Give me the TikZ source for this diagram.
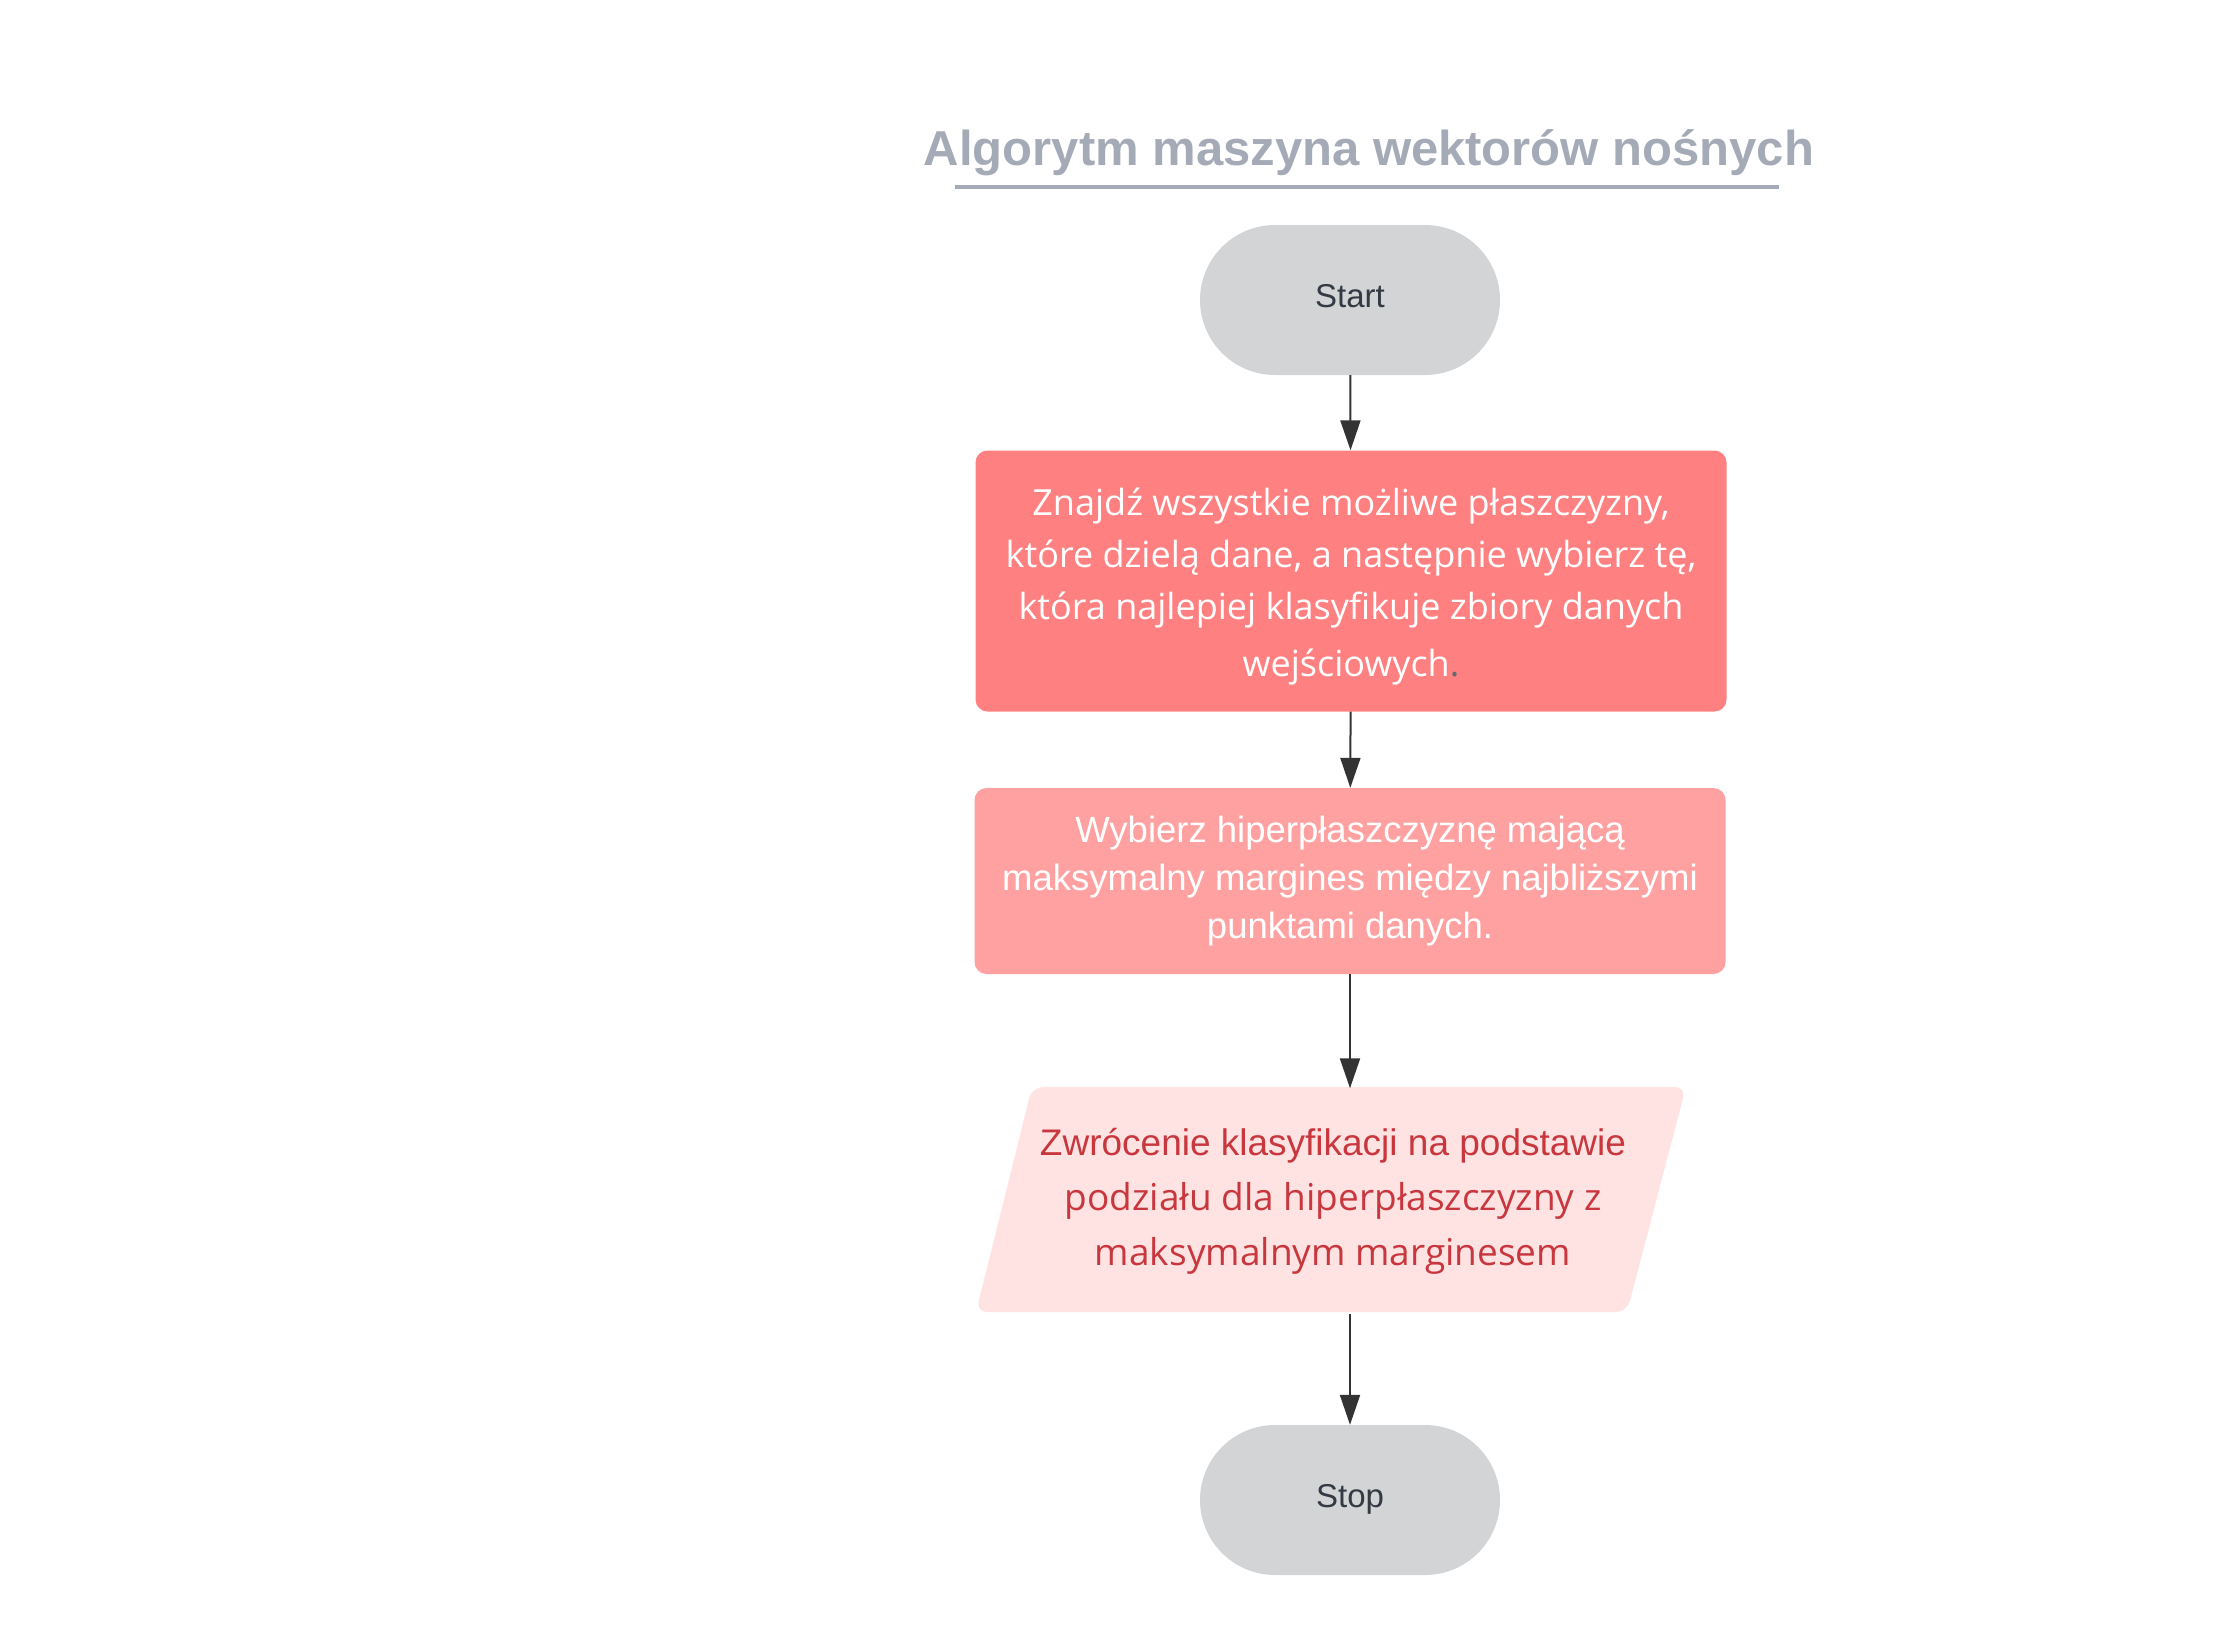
\documentclass[tikz,border=0pt]{standalone}
\usepackage{fontspec}
\setmainfont{Liberation Sans}
\newfontfamily\opensans{Open Sans}
\usetikzlibrary{arrows.meta}
\definecolor{titlegray}{HTML}{A4ABB6}
\definecolor{termgray}{HTML}{D3D4D6}
\definecolor{termtext}{HTML}{333A44}
\definecolor{redone}{HTML}{FF8080}
\definecolor{redtwo}{HTML}{FFA1A1}
\definecolor{redio}{HTML}{FFE3E3}
\definecolor{redtext}{HTML}{C8373D}
\definecolor{arrgray}{HTML}{333333}
\definecolor{dotgray}{HTML}{5D6B73}

\begin{document}
\begin{tikzpicture}[x=1pt,y=-1pt,
  term/.style={fill=termgray,text=termtext,rounded corners=75pt,minimum width=300pt,minimum height=150pt,inner sep=0pt,text height=24pt,text depth=10pt,font=\fontsize{33}{40}\selectfont},
  proc/.style={rounded corners=12pt,minimum width=751pt,inner sep=0pt,text=white,align=center},
  arr/.style={line width=2pt,draw=arrgray,-{Triangle[length=30pt,width=20pt]}}]

  \useasboundingbox (0,0) rectangle (2239,1650);

  \node[text=titlegray,font=\fontsize{49}{52}\selectfont\bfseries,inner sep=0pt] (0) at (1369,153) {Algorytm maszyna wektorów nośnych};
  \draw[titlegray,line width=4pt] (955,187) -- (1779,187);

  \node[term] (1) at (1350,300) {Start};
  \node[proc,fill=redone,minimum height=261pt,font=\opensans\fontsize{36}{52}\selectfont] (2) at (1351,581) {\rule{0pt}{39pt}Znajdź wszystkie możliwe płaszczyzny,\\które dzielą dane, a następnie wybierz tę,\\która najlepiej klasyfikuje zbiory danych\\[5pt]wejściowych\textcolor{dotgray}{.}};
  \node[proc,fill=redtwo,minimum height=186pt,font=\fontsize{36.5}{48}\selectfont] (3) at (1350,881) {Wybierz hiperpłaszczyznę mającą\\maksymalny margines między najbliższymi\\punktami danych.};
  % parallelogram behind the text node
  \fill[redio,rounded corners=11pt] (976,1312) -- (1032,1087) -- (1686,1087) -- (1627,1312) -- cycle;
  \node[text=redtext,minimum width=560pt,minimum height=225pt,inner sep=0pt,align=center,font=\opensans\fontsize{37}{55}\selectfont] (4) at (1333,1201) {{\rmfamily\fontsize{37}{55}\selectfont Zwrócenie klasyfikacji na podstawie}\\podziału dla hiperpłaszczyzny z\\maksymalnym marginesem};
  \node[term] (5) at (1350,1500) {Stop};

  \draw[arr] (1) -- (2);
  \draw[arr] (2) -- (3);
  \draw[arr] (3) -- (3 |- 4.north);
  \draw[arr] (5 |- 4.south) -- (5);

\end{tikzpicture}
\end{document}
